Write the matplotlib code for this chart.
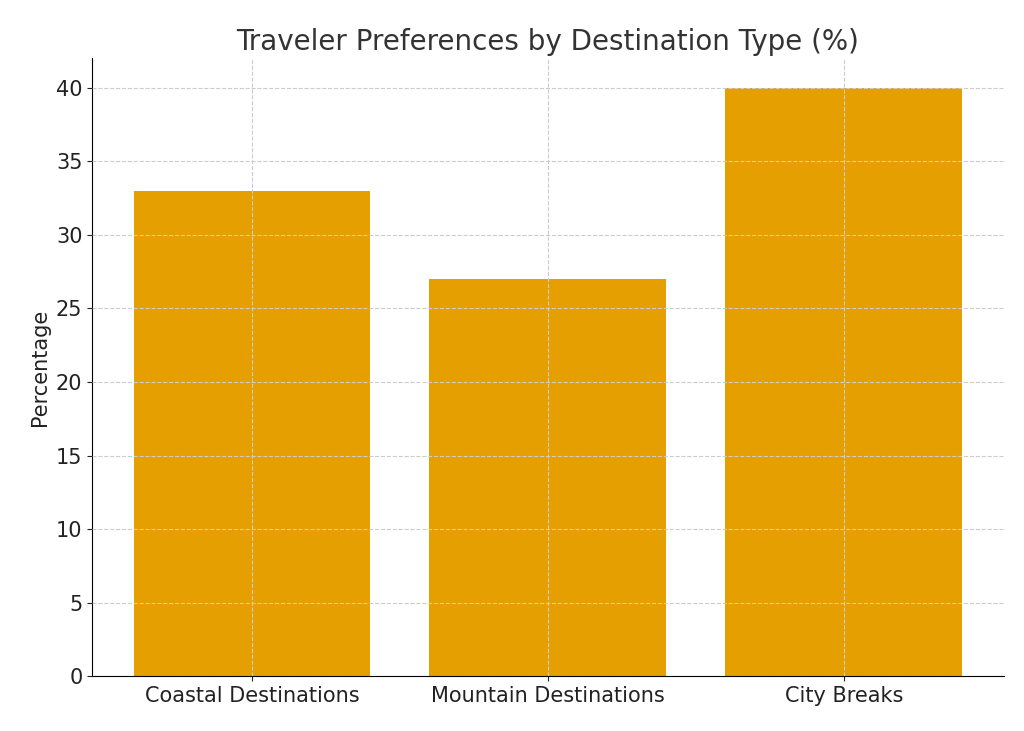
import matplotlib
matplotlib.use("Agg")
import matplotlib.pyplot as plt

categories = ["Coastal Destinations", "Mountain Destinations", "City Breaks"]
values = [33, 27, 40]

fig, ax = plt.subplots(figsize=(10.24, 7.31), dpi=100)
ax.bar(categories, values, color="#E69F00", width=0.8, zorder=1)
ax.set_title("Traveler Preferences by Destination Type (%)", fontsize=20, color="#333333")
ax.set_ylabel("Percentage", fontsize=15, color="#222222")
ax.tick_params(labelsize=15, colors="#222222")
ax.set_ylim(0, 42)
ax.grid(True, linestyle="--", color="#cccccc", zorder=2)
ax.set_axisbelow(False)
for s in ["top", "right"]:
    ax.spines[s].set_visible(False)
plt.subplots_adjust(left=0.09, right=0.98, top=0.92, bottom=0.075)
fig.savefig("out.png")
